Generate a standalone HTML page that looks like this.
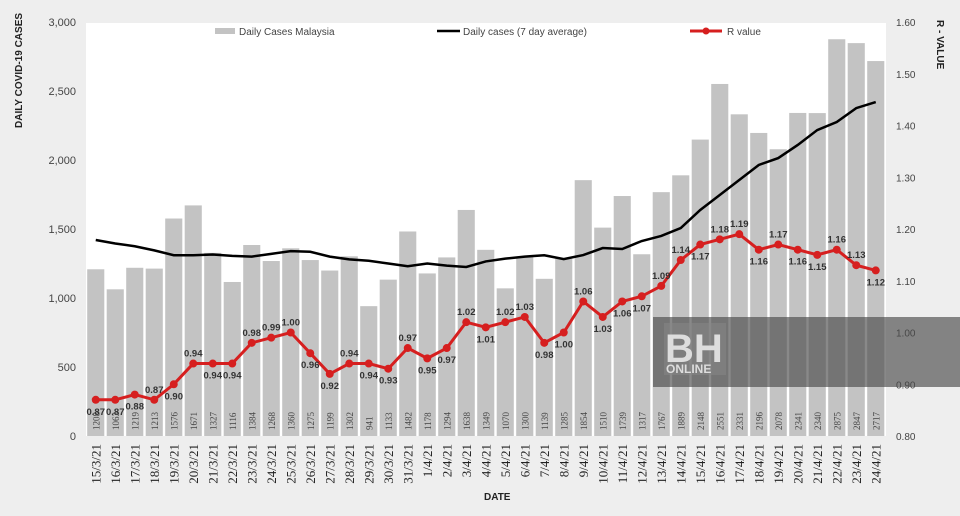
<!DOCTYPE html>
<html><head><meta charset="utf-8"><style>
html,body{margin:0;padding:0;background:#eeeeee;}
svg{display:block;font-family:"Liberation Sans",sans-serif;}
</style></head><body>
<svg id="c" width="960" height="516" xmlns="http://www.w3.org/2000/svg"></svg>
<script>
const cases=[1208,1063,1219,1213,1576,1671,1327,1116,1384,1268,1360,1275,1199,1302,941,1133,1482,1178,1294,1638,1349,1070,1300,1139,1285,1854,1510,1739,1317,1767,1889,2148,2551,2331,2196,2078,2341,2340,2875,2847,2717];
const R=[0.87,0.87,0.88,0.87,0.90,0.94,0.94,0.94,0.98,0.99,1.00,0.96,0.92,0.94,0.94,0.93,0.97,0.95,0.97,1.02,1.01,1.02,1.03,0.98,1.00,1.06,1.03,1.06,1.07,1.09,1.14,1.17,1.18,1.19,1.16,1.17,1.16,1.15,1.16,1.13,1.12];
const pos2=['b','b','b','a','b','a','b','b','a','a','a','b','b','a','b','b','a','b','b','a','b','a','a','b','b','a','b','b','b','a','a','b','a','a','b','a','b','b','a','a','b'];
const avg=[1420,1395,1375,1345,1310,1310,1315,1305,1300,1320,1340,1335,1300,1280,1270,1250,1230,1250,1235,1225,1265,1285,1300,1310,1282,1311,1362,1355,1413,1450,1507,1638,1746,1855,1964,2014,2109,2217,2275,2376,2420,2478];
const dates=[];
for(let d=15;d<=31;d++)dates.push(d+"/3/21");
for(let d=1;d<=24;d++)dates.push(d+"/4/21");
const X0=86,W=19.5;
const yL=v=>436-v*0.138, yR=r=>436-(r-0.8)*517.5, xc=i=>X0+W*(i+0.5);
let s='';
s+=`<rect x="86" y="23" width="800" height="413" fill="#fff"/>`;
for(let v=0;v<=3000;v+=500){s+=`<text x="76" y="${yL(v)+4}" font-size="11" fill="#444" text-anchor="end">${v.toLocaleString('en-US')}</text>`;}
for(let k=0;k<=8;k++){const r=0.8+k*0.1;s+=`<text x="896" y="${yR(r)+4}" font-size="10" fill="#444">${r.toFixed(2)}</text>`;}
cases.forEach((v,i)=>{s+=`<rect x="${X0+W*i+1.2}" y="${yL(v)}" width="${W-2.4}" height="${v*0.138}" fill="#c3c3c3"/>`;
 s+=`<text transform="translate(${xc(i)+3.5},430) rotate(-90)" font-size="9" fill="#444" font-family="Liberation Serif,serif">${v}</text>`;
 s+=`<text transform="translate(${xc(i)+4.5},444) rotate(-90)" font-size="13" fill="#222" text-anchor="end" font-family="Liberation Serif,serif">${dates[i]}</text>`;});
let p=avg.slice(0,41).map((v,i)=>`${xc(i)},${yL(v)}`).join(' ');
s+=`<polyline points="${p}" fill="none" stroke="#000" stroke-width="2.5"/>`;
p=R.map((r,i)=>`${xc(i)},${yR(r)}`).join(' ');
s+=`<polyline points="${p}" fill="none" stroke="#d61f1f" stroke-width="3"/>`;
R.forEach((r,i)=>{const x=xc(i),y=yR(r);s+=`<circle cx="${x}" cy="${y}" r="4" fill="#d61f1f"/>`;
 const a=pos2[i]==='a';s+=`<text x="${x}" y="${a?y-7:y+15}" font-size="9.5" font-weight="bold" fill="#333" text-anchor="middle">${r.toFixed(2)}</text>`;});
s+=`<rect x="215" y="28" width="20" height="6" fill="#c3c3c3"/><text x="239" y="35" font-size="10" fill="#444">Daily Cases Malaysia</text>`;
s+=`<line x1="437" y1="31" x2="460" y2="31" stroke="#000" stroke-width="2.5"/><text x="463" y="35" font-size="10" fill="#444">Daily cases (7 day average)</text>`;
s+=`<line x1="690" y1="31" x2="722" y2="31" stroke="#d61f1f" stroke-width="3"/><circle cx="706" cy="31" r="3.5" fill="#d61f1f"/><text x="727" y="35" font-size="10" fill="#444">R value</text>`;
s+=`<text transform="translate(22,128) rotate(-90)" font-size="10" font-weight="bold" fill="#222">DAILY COVID-19 CASES</text>`;
s+=`<text transform="translate(937,20) rotate(90)" font-size="10" font-weight="bold" fill="#222">R - VALUE</text>`;
s+=`<text x="484" y="500" font-size="10" font-weight="bold" fill="#222">DATE</text>`;
s+=`<rect x="653" y="317" width="307" height="70" fill="#4a4a4a" fill-opacity="0.65"/>`;
s+=`<rect x="664" y="323" width="62" height="52" fill="#888" fill-opacity="0.5"/>`;
s+=`<text x="665" y="362" font-size="40" font-weight="bold" fill="#ddd">BH</text>`;
s+=`<text x="666" y="373" font-size="12" font-weight="bold" fill="#ddd">ONLINE</text>`;
document.getElementById('c').innerHTML=s;
</script>
</body></html>
